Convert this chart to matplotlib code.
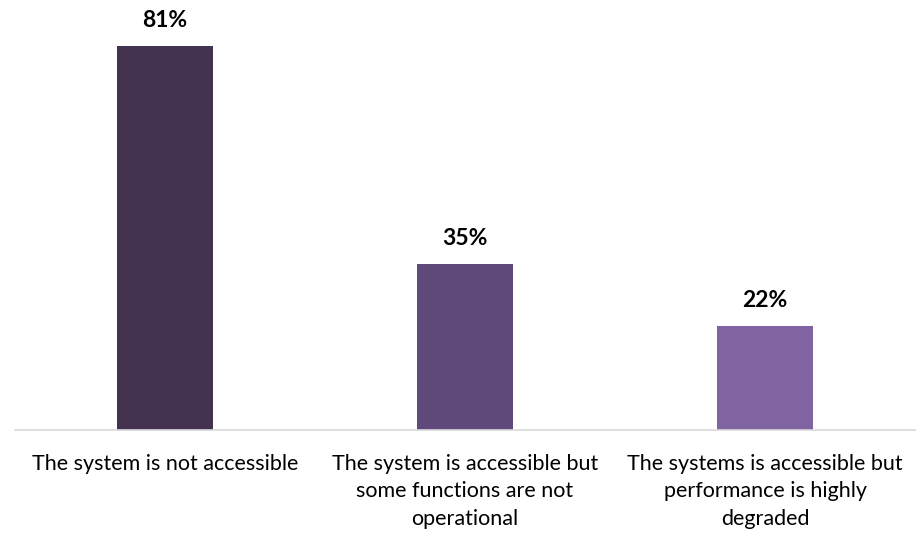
import matplotlib.pyplot as plt

categories = [
    "The system is not accessible",
    "The system is accessible but\nsome functions are not\noperational",
    "The systems is accessible but\nperformance is highly\ndegraded",
]
values = [81, 35, 22]
colors = ["#433350", "#604a7b", "#8064a2"]

plt.rcParams['font.family'] = ['Lato', 'DejaVu Sans']

fig = plt.figure(figsize=(9.18, 5.33), dpi=100)
ax = fig.add_axes([15 / 918, 103 / 533, 900 / 918, 430 / 533])

x = range(len(values))
ax.bar(x, values, width=0.317, color=colors)
ax.set_xlim(-0.5, len(values) - 0.5)
ax.set_ylim(0, 430 / 4.74)

# percentage above each bar
for i, v in zip(x, values):
    ax.text(i, v + 3.1, f"{v}%", ha="center", va="bottom",
            fontsize=16.5, fontweight="bold", color="black")

# category names below the baseline
for i, c in zip(x, categories):
    ax.text(i, -5.0, c, ha="center", va="top", fontsize=15.5,
            color="black", linespacing=1.48)

for s in ["top", "right", "left"]:
    ax.spines[s].set_visible(False)
ax.spines["bottom"].set_color("#d9d9d9")
ax.spines["bottom"].set_linewidth(1.2)
ax.set_xticks([])
ax.set_yticks([])

fig.savefig("out.png", dpi=100)
